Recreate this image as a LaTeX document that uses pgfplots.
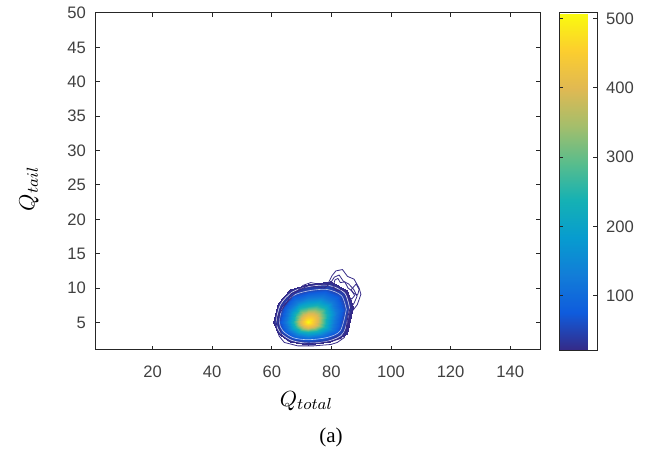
\documentclass[border=0pt]{standalone}
\usepackage{fontspec}
\setmainfont{Liberation Sans}
\newfontfamily\capfont{Liberation Serif}
\usepackage{pgfplots}
\pgfplotsset{compat=1.18}
\definecolor{navy}{RGB}{53,42,135}
\definecolor{axgray}{gray}{0.15}
\definecolor{lblgray}{gray}{0.25}
\pgfplotsset{colormap={parula}{rgb255=(53,42,135) rgb255=(15,92,221)
  rgb255=(18,125,216) rgb255=(7,156,207) rgb255=(21,177,180)
  rgb255=(89,189,140) rgb255=(165,190,107) rgb255=(225,185,82)
  rgb255=(252,206,46) rgb255=(249,251,14)}}

\begin{document}
\begin{tikzpicture}
\begin{axis}[name=ax,
  scale only axis, width=222pt, height=168.5pt,
  xmin=1, xmax=150, ymin=1, ymax=50,
  xtick={20,40,...,140}, ytick={5,10,...,50},
  tick align=inside, major tick length=2.2pt,
  axis line style={draw=axgray, line width=0.5pt},
  every tick/.style={axgray, line width=0.5pt},
  tick label style={font=\fontsize{8.3}{10}\selectfont, text=lblgray},
  xticklabel style={yshift=-4.5pt},
  yticklabel style={xshift=-1.5pt},
  /pgf/number format/assume math mode=true,
  every axis x label/.style={at={(axis description cs:0.474,-0.151)}, anchor=center},
  every axis y label/.style={at={(axis description cs:-0.151,0.478)}, rotate=90, anchor=center},
  label style={font=\fontsize{11}{13}\selectfont},
  xlabel={$Q_{total}$}, ylabel={$Q_{tail}$},
  colormap name=parula, point meta min=22, point meta max=508,
  colorbar,
  colorbar style={
    at={(parent axis.north east)}, anchor=north west, xshift=1pt,
    scale only axis, width=19pt, height=168.5pt,
    ytick={100,200,...,500},
    major tick length=2pt,
    axis line style={draw=axgray, line width=0.5pt},
    every tick/.style={axgray, line width=0.5pt},
    yticklabel style={font=\fontsize{8.3}{10}\selectfont, text=lblgray, xshift=1pt},
    /pgf/number format/assume math mode=true,
  },
]
% density rings: centre, then rings outwards (angle 0..360 step 30); [value]
\addplot[surf, shader=interp, point meta=explicit] coordinates {
(72,5) [508] (72,5) [508] (72,5) [508] (72,5) [508] (72,5) [508] (72,5) [508] (72,5) [508] (72,5) [508] (72,5) [508] (72,5) [508] (72,5) [508] (72,5) [508] (72,5) [508]

(75.6,5.54) [390] (75.12,6.13) [390] (73.8,6.41) [390] (72,6.32) [390] (70.65,6.14) [390] (69.66,5.66) [390] (69.3,5) [390] (69.66,4.61) [390] (70.65,4.32) [390] (72,4.22) [390] (73.8,4.32) [390] (75.12,4.61) [390] (75.6,5.54) [390]

(78.6,5.99) [235] (77.72,7.07) [235] (75.3,7.59) [235] (72,7.42) [235] (69.52,7.09) [235] (67.71,6.21) [235] (67.05,5) [235] (67.71,4.28) [235] (69.52,3.76) [235] (72,3.57) [235] (75.3,3.76) [235] (77.72,4.28) [235] (78.6,5.99) [235]

(81.6,6.44) [125] (80.32,8.01) [125] (76.8,8.76) [125] (72,8.52) [125] (68.4,8.04) [125] (65.76,6.76) [125] (64.8,5) [125] (65.76,3.96) [125] (68.4,3.19) [125] (72,2.92) [125] (76.8,3.19) [125] (80.32,3.96) [125] (81.6,6.44) [125]

(84.6,6.89) [56] (82.92,8.95) [56] (78.3,9.94) [56] (72,9.62) [56] (67.27,8.99) [56] (63.81,7.31) [56] (62.55,5) [56] (63.81,3.63) [56] (67.27,2.63) [56] (72,2.27) [56] (78.3,2.63) [56] (82.92,3.63) [56] (84.6,6.89) [56]

(87.3,7.3) [22] (85.26,9.79) [22] (79.65,10.99) [22] (72,10.61) [22] (66.26,9.85) [22] (62.05,7.81) [22] (60.52,5) [22] (62.05,3.34) [22] (66.26,2.12) [22] (72,1.68) [22] (79.65,2.12) [22] (85.26,3.34) [22] (87.3,7.3) [22]
};
% gaps between the outer contour lines
\addplot[white, line width=0.35pt, no marks, smooth, opacity=0.8] coordinates {
(86.1,7.1) (84.4,9.3) (79.0,10.4) (72,10.2) (66.8,9.4) (62.9,7.6) (61.5,5) (62.9,3.5) (66.7,2.4) (72,2.0) (79.0,2.3) (84.1,3.5) (86.1,7.1)};
\addplot[white, line width=0.3pt, no marks, smooth, opacity=0.7] coordinates {
(85.0,6.9) (83.4,8.9) (78.5,9.8) (72.3,9.6) (67.2,8.9) (63.7,7.2) (62.5,5.1) (63.7,3.8) (67.1,2.8) (72,2.5) (78.4,2.8) (83.0,3.8) (85.0,6.9)};
% outer contour lines
\addplot[navy, line width=0.4pt, no marks] coordinates {
(61.4,4.3) (61.9,5.7) (63.0,7.0) (65.3,8.1) (66.5,9.2) (68.7,9.6) (70.5,10.4) (73.1,10.8) (76.5,10.5) (78.7,10.5) (80.2,11.8) (81.5,12.5) (83.7,12.7) (85.4,11.7) (87.6,11.3) (89.3,10.0) (89.9,9.1) (88.7,7.6) (87.1,6.7) (86.0,5.7) (85.4,4.3) (84.3,2.8) (82.0,2.1) (79.8,1.8) (74.0,1.6) (68.7,1.6) (64.2,2.1) (62.5,3.0) (61.4,4.3)};
\addplot[navy, line width=0.4pt, no marks] coordinates {
(62.2,4.6) (62.6,6.3) (64.5,7.6) (66.2,8.5) (67.8,9.3) (70,9.9) (72.5,10.4) (75,10.2) (77.5,10.0) (79.5,10.6) (81,11.6) (82.6,11.9) (84,11.0) (85.8,10.6) (87.5,9.8) (88.6,8.8) (87.6,7.8) (86.2,7.0) (85.5,5.8) (84.9,4.0) (83.3,2.7) (80.5,2.3) (76,2.0) (70,1.9) (65.5,2.3) (63.3,3.2) (62.2,4.6)};
\addplot[navy, line width=0.4pt, no marks] coordinates {
(80.5,10.2) (81.2,11.2) (82.2,11.4) (83,10.8) (84.5,10.9) (85.6,10.0) (86.9,9.6) (87.8,8.9) (86.8,8.4) (85.7,8.8) (84.8,9.5) (83.4,9.8) (82.0,9.6) (80.5,10.2)};
\addplot[navy, line width=0.4pt, no marks] coordinates {
(86.5,9.7) (88.3,10.6) (89.3,9.8) (88.8,9.0) (87.6,9.2) (86.5,9.7)};
\end{axis}
\node[font=\fontsize{10.5}{12}\selectfont\capfont] at ([xshift=117.5pt,yshift=-43.5pt]ax.south west) {(a)};
\path ([xshift=-48pt,yshift=-52pt]ax.south west) rectangle ++(327pt,227pt);
\end{tikzpicture}
\end{document}
